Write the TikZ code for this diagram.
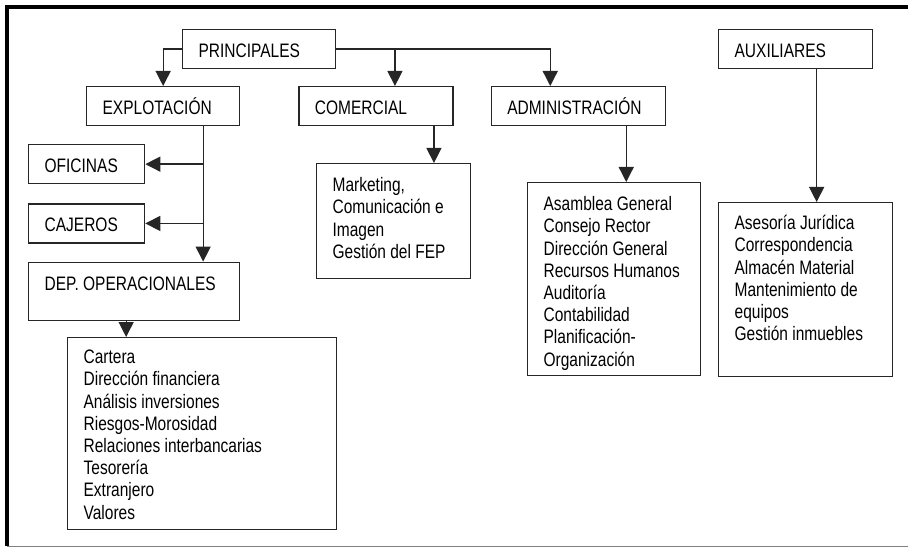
\documentclass[tikz,border=0pt]{standalone}
\usepackage{fontspec}
\setmainfont{Liberation Sans}[FakeStretch=0.795]
\usetikzlibrary{positioning}
\usetikzlibrary{arrows.meta}

\begin{document}
\begin{tikzpicture} [
    x=1pt, y=-1pt,
    box/.style  = { rectangle, draw=black!85, line width=1.3pt, anchor=north west,
                    align=left, inner xsep=16pt, inner ysep=0pt,
                    text height=28pt, text depth=11pt,
                    font=\fontsize{19.5}{22.2}\selectfont,
                    execute at begin node={\spaceskip=4.3pt\relax} },
    line/.style = { draw=black!85, line width=1.3pt,
                    -{Triangle[width=15pt,length=15pt]} },
    node distance=19pt,
  ]
  \useasboundingbox (0,0) rectangle (908,548);
  % frame
  \draw[line width=4pt] (7,546) -- (7,7) -- (908,7);
  \draw[gray, line width=1.5pt] (7,546.5) -- (908,546.5);

  \node (principales) [box, text width=121pt] at (182,29) {PRINCIPALES};
  \node (auxiliares) [box, text width=122pt] at (718,29) {AUXILIARES};
  \node (explotacion) [box, text width=121pt] at (86,86) {EXPLOTACIÓN};
  \node (comercial) [box, text width=122pt, right=58pt of explotacion.north east, anchor=north west] {COMERCIAL};
  \node (administracion) [box, text width=142pt, right=37pt of comercial.north east, anchor=north west] {ADMINISTRACIÓN};
  \node (oficinas) [box, text width=84pt] at (28,144) {OFICINAS};
  \node (cajeros) [box, text width=84pt, below=of oficinas.south west, anchor=north west] {CAJEROS};
  \node (depop) [box, text width=179pt, text depth=30pt, below=18pt of cajeros.south west, anchor=north west] {DEP. OPERACIONALES};
  \node (cartera) [box, text width=237pt, text height=26pt, text depth=166pt] at (67,337)
    {Cartera\\Dirección financiera\\Análisis inversiones\\Riesgos-Morosidad\\Relaciones interbancarias\\Tesorería\\Extranjero\\Valores};
  \node (marketing) [box, text width=122pt, text depth=87pt] at (316,163)
    {Marketing,\\Comunicación e\\Imagen\\Gestión del FEP};
  \node (asamblea) [box, text width=141pt, text depth=165pt] at (527,182)
    {Asamblea General\\Consejo Rector\\Dirección General\\Recursos Humanos\\Auditoría\\Contabilidad\\Planificación-\\Organización};
  \node (asesoria) [box, text width=142pt, text height=27pt, text depth=147pt] at (718,202)
    {Asesoría Jurídica\\Correspondencia\\Almacén Material\\Mantenimiento de\\equipos\\Gestión inmuebles};

  % drop points of the connectors
  \coordinate (comdrop) at ([xshift=19pt]comercial.north);
  \coordinate (admdrop) at ([xshift=-28pt]administracion.north);
  \coordinate (expldrop) at ([xshift=40pt]explotacion.south);
  \coordinate (mktdrop) at ([xshift=58pt]comercial.south);
  \coordinate (asadrop) at ([xshift=48pt]administracion.south);
  \coordinate (auxdrop) at ([xshift=21pt]auxiliares.south);
  \coordinate (depdrop) at ([xshift=-8pt]depop.south);

  % connect nodes
  \begin{scope}[every path/.style=line]
  \path (principales.west) -| (explotacion.north);
  \path (principales.east) -| (admdrop);
  \path (comdrop |- principales.east) -- (comdrop);
  \path (expldrop) -- (expldrop |- depop.north);
  \path (expldrop |- oficinas.east) -- (oficinas.east);
  \path (expldrop |- cajeros.east) -- (cajeros.east);
  \path (mktdrop) -- (mktdrop |- marketing.north);
  \path (asadrop) -- (asadrop |- asamblea.north);
  \path (auxdrop) -- (auxdrop |- asesoria.north);
  \path (depdrop) -- (depdrop |- cartera.north);
  \end{scope}

\end{tikzpicture}
\end{document}
